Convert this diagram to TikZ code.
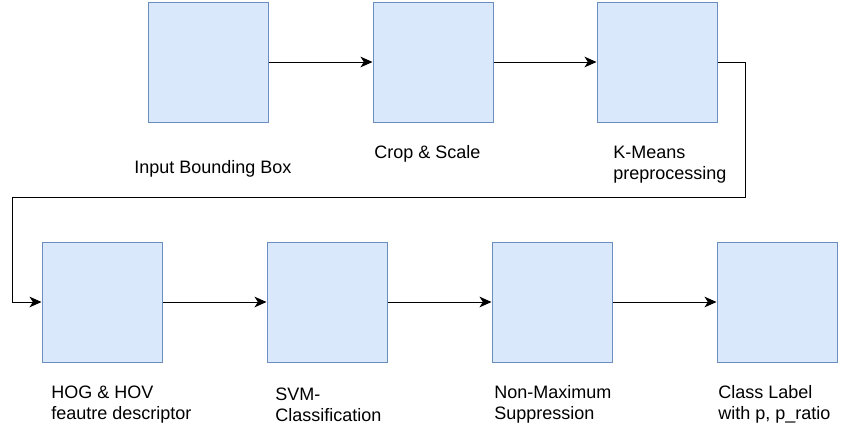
\documentclass[tikz,border=0pt]{standalone}
\usepackage{fontspec}
\setmainfont{Liberation Sans}
\usepackage{xcolor}
\usepackage{tikz}
\usetikzlibrary{arrows.meta}

\definecolor{boxfill}{RGB}{218,232,252}
\definecolor{boxline}{RGB}{108,142,191}

\tikzset{
  stagebox/.style={draw=boxline, fill=boxfill, line width=0.75pt, minimum width=90pt, minimum height=90pt, inner sep=0pt},
  caption/.style={anchor=west, inner sep=0pt, align=left, font=\fontsize{13.5pt}{15.75pt}\selectfont},
  flow/.style={line width=0.75pt, -{Stealth[length=9pt, width=8pt, inset=2.5pt]}}
}

\begin{document}
\begin{tikzpicture}[x=0.75pt,y=0.75pt,yscale=-1,xscale=1]
\path[use as bounding box] (0,0) rectangle (853,425);

%top row
\node[stagebox] (input) at (208,62) {};
\node[stagebox] (crop) at (433,62) {};
\node[stagebox] (kmeans) at (657,62) {};
%bottom row
\node[stagebox] (hog) at (102,302) {};
\node[stagebox] (svm) at (327,302) {};
\node[stagebox] (nms) at (552,302) {};
\node[stagebox] (label) at (777,302) {};

% Text Node
\node[caption] (inputtxt) at (134,169) {Input Bounding Box};
% Text Node
\node[caption] (croptxt) at (374,154) {Crop \& Scale};
% Text Node
\node[caption] (kmeanstxt) at (613,164.5) {K-Means\\preprocessing};
% Text Node
\node[caption] (hogtxt) at (51,404.5) {HOG \& HOV\\feautre descriptor};
% Text Node
\node[caption] (svmtxt) at (275,404.5) {SVM-\\Classification};
% Text Node
\node[caption] (nmstxt) at (494,404.5) {Non-Maximum\\Suppression};
% Text Node
\node[caption] (labeltxt) at (718,404.5) {Class Label\\with p, p\_ratio};

%connectors
\draw[flow] (input) -- (crop);
\draw[flow] (crop) -- (kmeans);
\coordinate (turnA) at (745,62);
\coordinate (turnB) at (745,197);
\coordinate (turnC) at (12,197);
\coordinate (turnD) at (12,302);
\draw[flow] (kmeans.east) -- (turnA) -- (turnB) -- (turnC) -- (turnD) -- (hog.west);
\draw[flow] (hog) -- (svm);
\draw[flow] (svm) -- (nms);
\draw[flow] (nms) -- (label);

\end{tikzpicture}
\end{document}
